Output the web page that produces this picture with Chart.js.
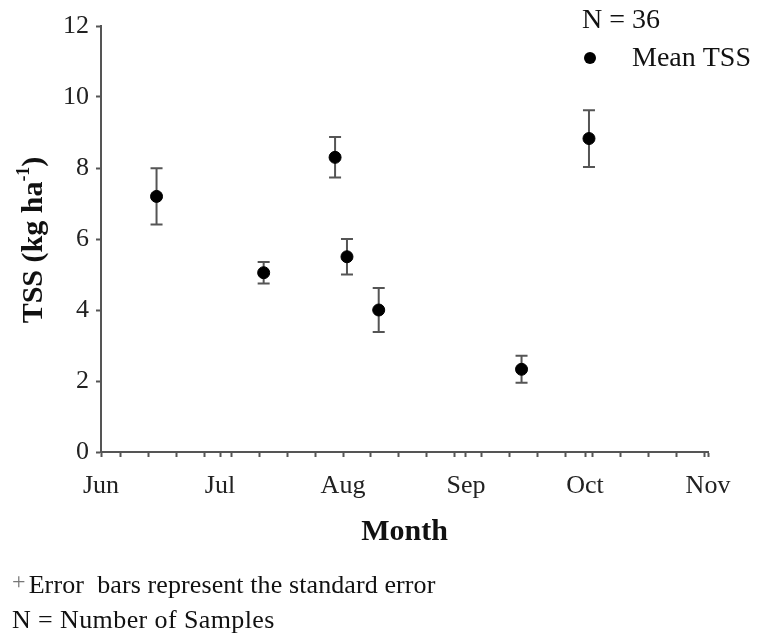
<!DOCTYPE html>
<html>
<head>
<meta charset="utf-8">
<script src="https://cdn.jsdelivr.net/npm/chart.js@4/dist/chart.umd.min.js"></script>
<style>
  body { margin: 0; background: #fff; }
  #wrap { position: relative; width: 757px; height: 635px; }
  canvas { position: absolute; left: 0; top: 0; }
  .note {
    position: absolute; left: 12px; line-height: 30px;
    font-family: "Liberation Serif", "Times New Roman", serif;
    font-size: 26px; color: #111; white-space: pre; letter-spacing: 0.4px;
  }
  .note.first { letter-spacing: 0.1px; }
  .note .plus { color: #777; font-size: 24px; position: relative; top: -4px; margin-right: 3px; }
</style>
</head>
<body>
<div id="wrap">
  <canvas id="c" width="757" height="635"></canvas>
  <div class="note first" style="top:570px"><span class="plus">+</span>Error  bars represent the standard error</div>
  <div class="note" style="top:605px">N = Number of Samples</div>
</div>
<script>
// sample dates as days counted from 1 June
const sampleDays = [14, 41, 59, 62, 70, 106, 123];
const meanTSS = [7.2, 5.05, 8.3, 5.5, 4.0, 2.33, 8.83];
const stdErr = [0.79, 0.3, 0.57, 0.5, 0.62, 0.38, 0.8];

const monthStarts = [0, 30, 61, 92, 122, 153];
const monthLabels = ['Jun', 'Jul', 'Aug', 'Sep', 'Oct', 'Nov'];
const weekTicks = [5, 12, 19, 26, 33, 40, 47, 54, 61, 68, 75, 82, 89, 96, 103, 110, 117, 124, 131, 138, 145, 152];
const yTicks = [0, 2, 4, 6, 8, 10, 12];

const SERIF = '"Liberation Serif", "Times New Roman", serif';
const AXIS = '#555';

const xTicks = [...new Set([...monthStarts, ...weekTicks])].sort((a, b) => a - b);

// vertical error bars, drawn under the dots
const errorBars = {
  id: 'errorBars',
  beforeDatasetsDraw(chart) {
    const { ctx, scales: { x, y } } = chart;
    ctx.save();
    ctx.strokeStyle = AXIS;
    ctx.lineWidth = 2;
    sampleDays.forEach((d, i) => {
      const px = x.getPixelForValue(d);
      const top = y.getPixelForValue(meanTSS[i] + stdErr[i]);
      const bot = y.getPixelForValue(meanTSS[i] - stdErr[i]);
      ctx.beginPath();
      ctx.moveTo(px, top); ctx.lineTo(px, bot);
      ctx.moveTo(px - 6, top); ctx.lineTo(px + 6, top);
      ctx.moveTo(px - 6, bot); ctx.lineTo(px + 6, bot);
      ctx.stroke();
    });
    ctx.restore();
  }
};

// y title with superscript, plus the little N / Mean TSS key
const extras = {
  id: 'extras',
  afterDraw(chart) {
    const { ctx } = chart;
    ctx.save();

    ctx.translate(34, 240);
    ctx.rotate(-Math.PI / 2);
    ctx.fillStyle = '#111';
    ctx.textBaseline = 'middle';
    const main = 'TSS (kg ha', sup = '-1', end = ')';
    ctx.font = 'bold 30px ' + SERIF;
    const w1 = ctx.measureText(main).width, w3 = ctx.measureText(end).width;
    ctx.font = 'bold 18px ' + SERIF;
    const w2 = ctx.measureText(sup).width;
    let sx = -(w1 + w2 + w3) / 2;
    ctx.font = 'bold 30px ' + SERIF;
    ctx.fillText(main, sx, 0);
    ctx.font = 'bold 18px ' + SERIF;
    ctx.fillText(sup, sx + w1, -10);
    ctx.font = 'bold 30px ' + SERIF;
    ctx.fillText(end, sx + w1 + w2, 0);
    ctx.setTransform(1, 0, 0, 1, 0, 0);

    ctx.font = '28px ' + SERIF;
    ctx.fillStyle = '#111';
    ctx.textBaseline = 'middle';
    ctx.fillText('N = 36', 582, 21);
    ctx.beginPath();
    ctx.arc(590, 58, 6, 0, Math.PI * 2);
    ctx.fillStyle = '#000';
    ctx.fill();
    ctx.fillStyle = '#111';
    ctx.fillText('Mean TSS', 632, 59);
    ctx.restore();
  }
};

new Chart(document.getElementById('c'), {
  type: 'scatter',
  data: {
    datasets: [{
      label: 'Mean TSS',
      data: sampleDays.map((d, i) => ({ x: d, y: meanTSS[i] })),
      pointRadius: 6,
      pointHoverRadius: 6,
      backgroundColor: '#000',
      borderColor: '#000',
    }]
  },
  options: {
    responsive: false,
    animation: false,
    layout: { padding: { left: 0, top: 26, right: 49, bottom: 0 } },
    plugins: { legend: { display: false }, tooltip: { enabled: false } },
    scales: {
      x: {
        type: 'linear',
        min: 0,
        max: 153,
        afterBuildTicks: s => { s.ticks = xTicks.map(v => ({ value: v })); },
        afterFit: s => { s.height = 183; },
        ticks: {
          autoSkip: false,
          maxRotation: 0,
          padding: 14,
          color: '#222',
          font: { family: SERIF, size: 26 },
          callback: v => {
            const k = monthStarts.indexOf(v);
            return k < 0 ? '' : monthLabels[k];
          }
        },
        grid: { drawOnChartArea: false, tickLength: 5, tickColor: AXIS, tickWidth: 2 },
        border: { color: AXIS, width: 2 },
        title: {
          display: true,
          text: 'Month',
          color: '#111',
          font: { family: SERIF, size: 30, weight: 'bold' },
          padding: { top: 0, bottom: 85 }
        }
      },
      y: {
        min: 0,
        max: 12,
        afterBuildTicks: s => { s.ticks = yTicks.map(v => ({ value: v })); },
        afterFit: s => { s.width = 101; },
        ticks: { padding: 7, color: '#222', font: { family: SERIF, size: 26 } },
        grid: { drawOnChartArea: false, tickLength: 5, tickColor: AXIS, tickWidth: 2 },
        border: { color: AXIS, width: 2 }
      }
    }
  },
  plugins: [errorBars, extras]
});
</script>
</body>
</html>
